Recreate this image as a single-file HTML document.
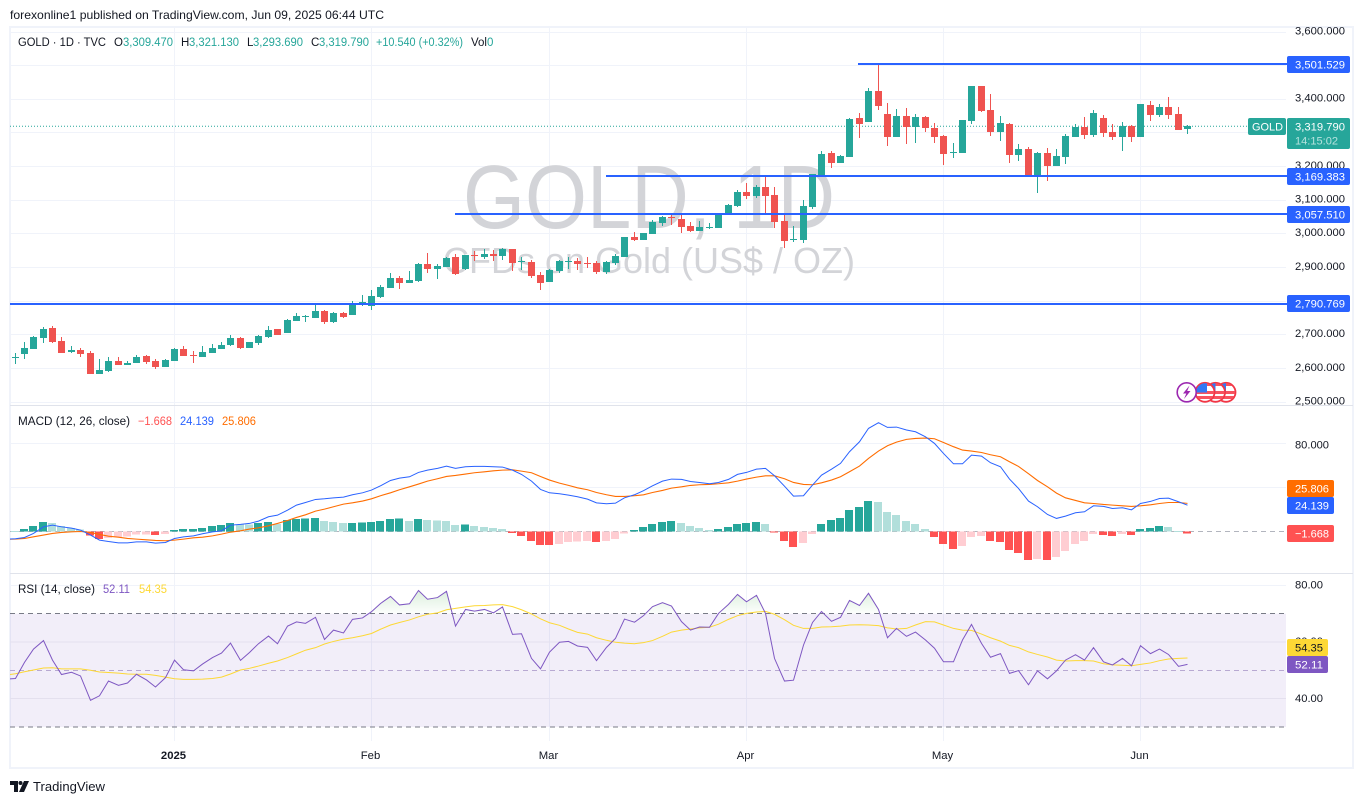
<!DOCTYPE html>
<html lang="en">
<head>
<meta charset="utf-8">
<title>GOLD 1D chart</title>
<style>
html,body{margin:0;padding:0;background:#fff;width:1364px;height:804px;overflow:hidden}
svg{display:block}
text{font-family:"Liberation Sans",sans-serif;fill:#131722}
</style>
</head>
<body>
<svg id="chart" xmlns="http://www.w3.org/2000/svg" width="1364" height="804" viewBox="0 0 1364 804">
  <defs>
    <clipPath id="plot-clip"><rect x="10" y="27" width="1276" height="714"/></clipPath>
    <clipPath id="ob-clip"><rect x="10" y="574" width="1276" height="39.7"/></clipPath>
    <linearGradient id="ob-grad" gradientUnits="userSpaceOnUse" x1="0" y1="585" x2="0" y2="614">
      <stop offset="0" stop-color="#4caf50" stop-opacity="0.24"/>
      <stop offset="1" stop-color="#4caf50" stop-opacity="0.01"/>
    </linearGradient>
    <clipPath id="flag-clip-a"><circle cx="1226" cy="392.3" r="9"/></clipPath>
    <clipPath id="flag-clip-b"><circle cx="1215.5" cy="392.3" r="9"/></clipPath>
    <clipPath id="flag-clip-c"><circle cx="1205" cy="392.3" r="9"/></clipPath>
  </defs>

  <rect x="0" y="0" width="1364" height="804" fill="#ffffff"/>
  <text x="10" y="19" font-size="12" textLength="374" lengthAdjust="spacingAndGlyphs">forexonline1 published on TradingView.com, Jun 09, 2025 06:44 UTC</text>

  <g fill="none" stroke="#f0f3fa" stroke-width="2" shape-rendering="crispEdges">
    <rect x="10" y="27" width="1343" height="741"/>
  </g>

  <g id="grid" clip-path="url(#plot-clip)"></g>

  <g>
    <text x="463" y="228" font-size="90" textLength="372" lengthAdjust="spacingAndGlyphs" style="fill:#d3d4d8">GOLD, 1D</text>
    <text x="443" y="273" font-size="36" textLength="412" lengthAdjust="spacingAndGlyphs" style="fill:#d3d4d8">CFDs on Gold (US$ / OZ)</text>
  </g>

  <rect id="rsi-band" x="10" y="613.7" width="1276" height="113.3" fill="#7e57c2" fill-opacity="0.1"/>
  <g id="pane-lines"></g>

  <g id="price-pane" clip-path="url(#plot-clip)"></g>
  <g id="macd-pane" clip-path="url(#plot-clip)"></g>
  <g id="rsi-pane" clip-path="url(#plot-clip)"></g>
  <g id="levels"></g>

  <g stroke="#e0e3eb" stroke-width="1" shape-rendering="crispEdges">
    <line x1="10" x2="1353" y1="405.5" y2="405.5"/>
    <line x1="10" x2="1353" y1="573.5" y2="573.5"/>
  </g>

  <g font-size="11.5">
    <text x="18" y="46" textLength="88" lengthAdjust="spacingAndGlyphs">GOLD · 1D · TVC</text>
    <text x="114" y="46">O</text>
    <text x="123" y="46" textLength="50" lengthAdjust="spacingAndGlyphs" style="fill:#26a69a">3,309.470</text>
    <text x="181" y="46">H</text>
    <text x="189" y="46" textLength="50" lengthAdjust="spacingAndGlyphs" style="fill:#26a69a">3,321.130</text>
    <text x="247" y="46">L</text>
    <text x="253" y="46" textLength="50" lengthAdjust="spacingAndGlyphs" style="fill:#26a69a">3,293.690</text>
    <text x="311" y="46">C</text>
    <text x="319" y="46" textLength="50" lengthAdjust="spacingAndGlyphs" style="fill:#26a69a">3,319.790</text>
    <text x="376" y="46" textLength="87" lengthAdjust="spacingAndGlyphs" style="fill:#26a69a">+10.540 (+0.32%)</text>
    <text x="471" y="46" textLength="16" lengthAdjust="spacingAndGlyphs">Vol</text>
    <text x="487" y="46" style="fill:#26a69a">0</text>
  </g>

  <g font-size="11.5">
    <text x="18" y="425" textLength="112" lengthAdjust="spacingAndGlyphs">MACD (12, 26, close)</text>
    <text x="138" y="425" textLength="34" lengthAdjust="spacingAndGlyphs" style="fill:#ff5252">−1.668</text>
    <text x="180" y="425" textLength="34" lengthAdjust="spacingAndGlyphs" style="fill:#2962ff">24.139</text>
    <text x="222" y="425" textLength="34" lengthAdjust="spacingAndGlyphs" style="fill:#ff6d00">25.806</text>
  </g>

  <g font-size="11.5">
    <text x="18" y="593" textLength="77" lengthAdjust="spacingAndGlyphs">RSI (14, close)</text>
    <text x="103" y="593" textLength="27" lengthAdjust="spacingAndGlyphs" style="fill:#7e57c2">52.11</text>
    <text x="139" y="593" textLength="28" lengthAdjust="spacingAndGlyphs" style="fill:#fdd835">54.35</text>
  </g>

  <g id="axis-labels" font-size="11.3"></g>

  <g font-size="11.3">
    <g><rect x="1287" y="56" width="63" height="17" rx="2" fill="#2962ff"/><text x="1295" y="68.5" textLength="50" lengthAdjust="spacingAndGlyphs" style="fill:#fff">3,501.529</text></g>
    <g><rect x="1287" y="168" width="63" height="17" rx="2" fill="#2962ff"/><text x="1295" y="180.5" textLength="50" lengthAdjust="spacingAndGlyphs" style="fill:#fff">3,169.383</text></g>
    <g><rect x="1287" y="206" width="63" height="17" rx="2" fill="#2962ff"/><text x="1295" y="218.5" textLength="50" lengthAdjust="spacingAndGlyphs" style="fill:#fff">3,057.510</text></g>
    <g><rect x="1287" y="295" width="63" height="17" rx="2" fill="#2962ff"/><text x="1295" y="307.5" textLength="50" lengthAdjust="spacingAndGlyphs" style="fill:#fff">2,790.769</text></g>
    <g><rect x="1248" y="118" width="38" height="17" rx="2" fill="#26a69a"/><text x="1252" y="130.5" textLength="31" lengthAdjust="spacingAndGlyphs" style="fill:#fff">GOLD</text></g>
    <g><rect x="1287" y="118" width="63" height="31" rx="2" fill="#26a69a"/><text x="1295" y="130.5" textLength="50" lengthAdjust="spacingAndGlyphs" style="fill:#fff">3,319.790</text><text x="1295" y="144.5" textLength="43" lengthAdjust="spacingAndGlyphs" style="fill:#b7e3de">14:15:02</text></g>
    <g><rect x="1287" y="480" width="47" height="17" rx="2" fill="#ff6d00"/><text x="1295" y="492.7" textLength="34" lengthAdjust="spacingAndGlyphs" style="fill:#fff">25.806</text></g>
    <g><rect x="1287" y="497" width="47" height="17" rx="2" fill="#2962ff"/><text x="1295" y="509.5" textLength="34" lengthAdjust="spacingAndGlyphs" style="fill:#fff">24.139</text></g>
    <g><rect x="1287" y="525" width="47" height="17" rx="2" fill="#ff5252"/><text x="1295" y="537.5" textLength="34" lengthAdjust="spacingAndGlyphs" style="fill:#fff">−1.668</text></g>
    <g><rect x="1287" y="639" width="41" height="17" rx="2" fill="#fdd835"/><text x="1295" y="651.5" textLength="28" lengthAdjust="spacingAndGlyphs">54.35</text></g>
    <g><rect x="1287" y="656" width="41" height="17" rx="2" fill="#7e57c2"/><text x="1295" y="668.5" textLength="28" lengthAdjust="spacingAndGlyphs" style="fill:#fff">52.11</text></g>
  </g>

  <g>
    <g>
      <circle cx="1226" cy="392.3" r="9.5" fill="#fff" stroke="#f23645" stroke-width="1.8"/>
      <g clip-path="url(#flag-clip-a)"><rect x="1216" y="383" width="20" height="3" fill="#f7525f"/><rect x="1216" y="391" width="20" height="3" fill="#f7525f"/><rect x="1216" y="396" width="20" height="3" fill="#f7525f"/><rect x="1216" y="383" width="10" height="9" fill="#3179f5"/></g>
    </g>
    <g>
      <circle cx="1215.5" cy="392.3" r="9.5" fill="#fff" stroke="#f23645" stroke-width="1.8"/>
      <g clip-path="url(#flag-clip-b)"><rect x="1205.5" y="383" width="20" height="3" fill="#f7525f"/><rect x="1205.5" y="391" width="20" height="3" fill="#f7525f"/><rect x="1205.5" y="396" width="20" height="3" fill="#f7525f"/><rect x="1205.5" y="383" width="10" height="9" fill="#3179f5"/></g>
    </g>
    <g>
      <circle cx="1205" cy="392.3" r="9.5" fill="#fff" stroke="#f23645" stroke-width="1.8"/>
      <g clip-path="url(#flag-clip-c)"><rect x="1195" y="383" width="20" height="3" fill="#f7525f"/><rect x="1195" y="391" width="20" height="3" fill="#f7525f"/><rect x="1195" y="396" width="20" height="3" fill="#f7525f"/><rect x="1196" y="383" width="11" height="9.5" fill="#3179f5"/></g>
    </g>
    <g>
      <circle cx="1186.7" cy="392.3" r="9.5" fill="#fff" stroke="#9c27b0" stroke-width="1.6"/>
      <polygon points="1189.5,385.5 1183,393.5 1186.3,393.5 1184,399 1190.5,391 1187.2,391" fill="#9c27b0"/>
    </g>
  </g>

  <g>
    <g fill="#131722">
      <polygon points="10,781 18,781 18,792 14,792 14,785 10,785"/>
      <circle cx="20.5" cy="783" r="2"/>
      <polygon points="24,781 29,781 24,792 19,792"/>
    </g>
    <text x="33" y="791" font-size="13" textLength="72" lengthAdjust="spacingAndGlyphs">TradingView</text>
  </g>
</svg>

<script>
var priceTicks = [3600, 3500, 3400, 3300, 3200, 3100, 3000, 2900, 2800, 2700, 2600, 2500];
var macdTicks = [80, 40];
var macdTickLabels = ['80.000', ''];
var rsiGridTicks = [80, 60, 40];
var rsiTickLabels = ['80.00', '60.00', '40.00'];
var rsiDashedTicks = [70, 50, 30];
var monthNames = ['2025', 'Feb', 'Mar', 'Apr', 'May', 'Jun'];
var monthBars = [17, 38, 57, 78, 99, 120];
var lastPrice = 3319.79;
var levelValues = [3501.529, 3169.383, 3057.51, 2790.769];
var levelStartBars = [89.9, 63, 46.9, -1];

var opens = [2630,2642,2657,2689,2719,2680,2648,2654,2645,2582,2591,2621,2609,2615,2636,2621,2603,2621,2657,2639,2633,2645,2657,2668,2689,2660,2674,2692,2716,2704,2740,2752,2749,2769,2737,2763,
2757,2793,2784,2811,2838,2867,2853,2858,2909,2894,2900,2930,2894,2936,2930,2939,2933,2954,2914,2915,2876,2855,2888,2916,2918,2912,2912,2885,2912,2930,2989,2980,2998,3031,3049,
3043,3022,3007,3017,3016,3055,3081,3123,3111,3138,3114,3037,2980,2980,3078,3174,3239,3209,3227,3343,3331,3423,3355,3286,3349,3316,3346,3313,3289,3239,3239,3334,3438,3367,3301,3325,3233,3251,3174,3239,3200,3227,3286,3316,3292,3343,3301,3286,3319,3286,3382,3352,3376,3355,3309];
var highs = [2645,2677,2695,2722,2725,2692,2665,2660,2651,2627,2633,2633,2621,2639,2639,2627,2627,2660,2665,2651,2665,2671,2677,2698,2692,2677,2698,2725,2716,2746,2763,2758,2790,2772,2766,2767,
2799,2817,2832,2847,2882,2873,2888,2912,2942,2909,2930,2939,2936,2948,2954,2951,2957,2954,2930,2921,2885,2894,2921,2930,2927,2930,2918,2918,2939,2989,3004,3001,3040,3052,3061,
3055,3034,3037,3031,3061,3087,3129,3150,3144,3168,3138,3055,3022,3099,3176,3245,3245,3233,3343,3358,3432,3503,3387,3370,3373,3355,3349,3328,3292,3269,3337,3438,3438,3414,3349,3328,3266,3257,3242,3254,3251,3295,3325,3346,3367,3352,3325,3331,3322,3385,3393,3385,3405,3376,3322];
var lows = [2612,2627,2657,2674,2674,2645,2645,2633,2582,2582,2588,2609,2609,2615,2612,2597,2603,2621,2636,2615,2633,2645,2657,2665,2657,2660,2668,2689,2698,2704,2740,2737,2749,2731,2734,2750,
2757,2784,2772,2808,2838,2835,2853,2855,2882,2864,2900,2876,2891,2918,2924,2918,2921,2888,2891,2867,2832,2855,2882,2894,2891,2897,2879,2879,2906,2930,2977,2980,2998,3022,3025,
3001,3004,3007,3013,3016,3055,3078,3102,3105,3055,3016,2957,2974,2971,3072,3174,3194,3209,3227,3283,3331,3367,3260,3286,3266,3269,3301,3269,3203,3224,3239,3325,3361,3289,3275,3209,3215,3168,3120,3156,3200,3206,3286,3280,3286,3286,3277,3245,3272,3286,3334,3346,3340,3307,3295];
var closes = [2633,2660,2692,2716,2677,2645,2654,2642,2582,2594,2621,2609,2615,2633,2618,2603,2624,2657,2636,2636,2648,2660,2668,2689,2660,2677,2695,2713,2698,2743,2755,2755,2769,2737,2763,2752,
2793,2796,2814,2841,2867,2853,2861,2909,2894,2903,2927,2879,2936,2933,2939,2933,2954,2912,2917,2873,2853,2891,2918,2918,2909,2910,2885,2915,2933,2989,2980,3001,3034,3049,3046,
3019,3007,3019,3019,3055,3084,3123,3111,3138,3111,3034,2977,2983,3081,3176,3236,3209,3230,3340,3325,3423,3379,3286,3349,3316,3346,3313,3286,3236,3242,3337,3438,3364,3301,3328,3233,3251,3174,3239,3200,3230,3289,3316,3292,3358,3298,3286,3319,3286,3385,3352,3376,3352,3307,3319];

var macdHistogram = [0.5,2.4,5.2,8.9,8.0,5.2,3.1,1.8,-3.7,-6.7,-5.8,-4.9,-4.8,-2.8,-2.7,-3.1,-2.1,1.5,2.4,2.5,3.4,5.2,6.1,8.0,6.5,6.2,8.0,8.9,7.0,10.7,11.6,11.7,12.5,9.8,8.9,7.9,8.0,8.1,8.9,9.8,11.6,11.7,9.8,11.6,10.7,10.0,
9.8,6.1,6.2,5.2,4.3,3.4,2.4,-1.2,-4.0,-8.6,-12.2,-12.3,-11.3,-9.5,-9.4,-8.6,-9.5,-8.6,-6.7,-1.8,1.5,4.3,7.0,8.9,9.8,8.0,5.2,3.4,1.5,2.4,4.3,7.0,8.0,8.9,7.0,-0.7,-8.6,-14.1,-10.4,-2.1,7.0,10.7,12.5,19.9,22.6,28.1,27.2,18.0,15.3,
9.8,7.0,2.4,-4.9,-11.3,-15.9,-13.1,-4.9,-4.0,-8.6,-9.5,-16.8,-19.6,-26.0,-25.1,-26.2,-23.2,-17.7,-11.3,-8.6,-2.1,-3.1,-4.0,-2.1,-3.1,2.4,3.4,5.2,4.3,0.4,-1.668];
// Indicator lines begin one bar before the first visible candle.
var macdLine = [-7.0,-6.7,-5.5,-1.8,4.3,5.8,4.3,3.1,1.3,-3.3,-7.9,-9.2,-10.4,-10.4,-9.5,-9.5,-10.7,-10.1,-6.4,-4.9,-4.0,-2.1,-0.3,0.6,5.8,6.5,7.4,9.5,13.5,15.0,19.6,24.2,26.6,29.4,30.0,30.9,31.5,33.7,35.5,38.0,41.9,46.8,49.0,50.2,54.2,56.3,57.9,
60.0,57.9,59.4,59.7,59.7,59.4,59.1,56.3,52.4,46.2,38.6,35.5,34.6,33.4,31.9,29.7,26.3,25.4,26.0,30.9,33.7,37.4,41.9,46.2,48.1,47.8,45.9,45.0,43.8,45.0,47.8,52.4,54.2,57.2,57.9,51.1,41.6,32.5,32.8,42.6,51.7,57.2,62.5,73.2,82.3,94.6,99.8,95.5,95.8,
93.1,91.5,86.9,80.8,71.6,62.1,62.1,70.1,69.2,63.1,59.4,48.1,39.5,27.9,22.7,15.6,12.0,14.1,17.2,18.1,23.6,23.0,21.1,21.8,19.9,25.7,27.6,30.3,30.6,27.3,24.139];
var macdSignal = [-7.2,-7.0,-6.4,-4.9,-3.3,-1.8,-0.9,-0.3,0.0,-0.9,-2.7,-4.3,-5.2,-6.4,-7.0,-7.6,-8.2,-8.5,
-7.9,-7.0,-5.8,-5.2,-4.0,-2.4,-0.6,0.6,2.2,3.4,5.2,7.4,10.1,12.9,15.3,18.7,20.5,22.7,25.1,26.3,27.9,30.0,32.8,35.5,38.3,41.0,43.5,46.2,48.4,
50.5,51.4,52.7,53.9,54.8,55.7,56.3,56.6,55.4,53.9,50.5,47.2,44.4,42.3,40.1,38.3,35.8,33.7,32.2,32.2,32.8,33.7,35.8,37.7,39.8,41.0,42.3,42.9,43.2,43.8,44.7,46.2,48.1,49.9,51.1,51.1,48.4,45.0,43.2,42.9,44.7,47.2,50.2,54.8,60.0,67.0,73.8,78.7,82.0,
84.5,85.4,85.7,85.1,81.7,77.8,74.7,73.8,72.5,70.4,68.6,64.0,59.7,53.0,46.8,41.0,35.2,30.9,28.5,26.3,25.7,24.8,24.2,23.6,23.0,23.6,24.5,25.7,26.6,26.6,25.806];
var rsiValues = [46.9,47.1,52.8,57.5,60.5,53.6,48.5,49.3,48.0,39.4,41.0,46.2,44.7,45.5,48.6,46.6,44.1,47.4,53.6,50.2,49.8,52.2,54.5,56.1,59.6,53.5,56.3,59.4,62.1,59.4,65.6,67.1,66.6,68.7,60.9,64.2,63.2,68.0,68.5,70.7,73.6,76.1,73.1,73.5,78.2,75.1,75.7,77.9,
65.6,71.5,70.9,71.5,70.3,72.4,62.7,62.9,54.2,50.5,56.4,59.9,60.2,58.6,58.1,53.4,58.1,61.3,68.1,67.0,69.3,72.5,73.9,72.7,67.2,64.2,65.3,65.2,70.1,73.3,76.8,74.2,76.5,70.1,54.2,46.2,46.5,58.9,66.9,70.8,67.3,68.7,74.7,72.9,77.2,71.5,61.5,64.8,
62.0,63.5,60.7,57.8,53.0,53.0,60.7,66.2,59.5,54.6,55.9,48.9,49.9,44.9,49.8,47.0,49.8,53.6,55.5,53.6,58.0,53.0,51.9,54.2,51.6,58.7,55.9,57.5,55.6,51.4,52.11];
var rsiMaValues = [48.3,48.8,49.5,50.1,50.8,50.9,50.5,50.5,50.5,50.0,49.4,49.2,49.0,48.7,48.6,48.6,48.2,47.6,47.0,46.8,46.8,46.9,47.1,47.6,48.7,50.1,50.7,51.5,52.5,53.3,54.5,55.8,57.1,58.0,59.3,60.2,61.0,61.5,62.2,63.0,64.5,66.0,66.9,67.8,68.9,69.8,70.3,71.4,
71.9,72.4,72.8,72.9,73.1,73.2,72.5,71.4,69.9,68.2,66.8,65.9,64.6,63.4,62.8,61.5,60.6,59.9,59.6,59.4,59.8,60.5,62.0,63.5,64.2,64.6,65.0,65.2,66.3,68.0,69.3,70.1,70.6,70.8,69.8,67.9,65.9,64.8,64.8,65.3,65.4,65.6,66.0,66.1,66.0,65.8,65.0,64.6,
64.8,66.0,67.2,67.1,66.0,64.8,64.2,64.1,62.8,61.5,60.3,58.8,58.0,56.5,55.6,54.7,53.6,53.3,53.4,53.4,53.3,52.3,51.9,51.8,51.6,52.1,52.6,53.4,54.0,54.2,54.35];

var SVGNS = 'http://www.w3.org/2000/svg';
function make(tag, parent, attrs) {
  var el = document.createElementNS(SVGNS, tag);
  for (var k in attrs) el.setAttribute(k, attrs[k]);
  parent.appendChild(el);
  return el;
}
function xBar(i) { return Math.floor(15 + 9.382 * i); }
function xLine(i) { return xBar(i) + 0.5; }
function yPrice(p) { return 233.4 + (3000 - p) * 0.3365; }
function yMacd(v) { return 531.5 - 1.09 * v; }
function yRsi(v) { return 670.3 - (v - 50) * 2.83; }
function crisp(y) { return Math.round(y) + 0.5; }
function fmtPrice(p) { return String(p).replace(/(\d)(\d{3})$/, '$1,$2') + '.000'; }
function linePoints(values, yFn) {
  return values.map(function (v, k) { return xLine(k - 1) + ',' + yFn(v).toFixed(2); }).join(' ');
}

var grid = document.getElementById('grid');
var GRID = '#f0f3fa';
priceTicks.forEach(function (p) {
  var l = make('line', grid, {x1: 10, x2: 1286, y1: crisp(yPrice(p)), y2: crisp(yPrice(p)), stroke: GRID, 'shape-rendering': 'crispEdges'});
  
  
});
macdTicks.forEach(function (v) {
  var l = make('line', grid, {x1: 10, x2: 1286, y1: crisp(yMacd(v)) - 1, y2: crisp(yMacd(v)) - 1, stroke: GRID, 'shape-rendering': 'crispEdges'});
  
  
});
monthBars.forEach(function (b) {
  var l = make('line', grid, {x1: xLine(b), x2: xLine(b), y1: 27, y2: 741, stroke: GRID, 'shape-rendering': 'crispEdges'});
  
  
});

var paneLines = document.getElementById('pane-lines');
rsiGridTicks.forEach(function (v) {
  var l = make('line', paneLines, {x1: 10, x2: 1286, y1: yRsi(v), y2: yRsi(v), stroke: v === 80 ? GRID : '#e4e0ee', 'shape-rendering': 'crispEdges'});
  
  
});
rsiDashedTicks.forEach(function (v) {
  var l = make('line', paneLines, {x1: 10, x2: 1286, y1: yRsi(v), y2: yRsi(v), stroke: v === 50 ? '#b8a9d2' : '#787b86', 'stroke-dasharray': '5 4', 'shape-rendering': 'crispEdges'});
  
  
});
var zeroLine = make('line', paneLines, {x1: 10, x2: 1286, y1: 531.5, y2: 531.5, stroke: '#b2b5be', 'stroke-dasharray': '5 4', 'shape-rendering': 'crispEdges'});



var pricePane = document.getElementById('price-pane');
var lastLine = make('line', pricePane, {x1: 10, x2: 1248, y1: yPrice(lastPrice) + 0.5, y2: yPrice(lastPrice) + 0.5, stroke: '#26a69a', 'stroke-width': 1, 'stroke-dasharray': '1 2'});



closes.forEach(function (c, i) {
  var o = opens[i], color = c >= o ? '#26a69a' : '#ef5350';
  var g = make('g', pricePane, {'shape-rendering': 'crispEdges', fill: color});
  
  
  var top = Math.round(yPrice(Math.max(o, c)));
  var bot = Math.round(yPrice(Math.min(o, c)));
  var hy = Math.round(yPrice(highs[i]));
  var ly = Math.round(yPrice(lows[i]));
  make('rect', g, {x: xBar(i), y: hy, width: 1, height: Math.max(1, ly - hy)});
  make('rect', g, {x: xBar(i) - 3, y: top, width: 7, height: Math.max(1, bot - top)});
});

var levels = document.getElementById('levels');
levelValues.forEach(function (p, k) {
  var y = Math.round(yPrice(p) - 0.3);
  var r = make('rect', levels, {x: Math.max(10, xBar(levelStartBars[k])), y: y - 1, width: 1287 - Math.max(10, xBar(levelStartBars[k])), height: 2, fill: '#2962ff', 'shape-rendering': 'crispEdges'});
  
  
});

var macdPane = document.getElementById('macd-pane');
macdHistogram.forEach(function (v, i) {
  var prev = i > 0 ? macdHistogram[i - 1] : v;
  var color = v >= 0 ? (v > prev ? '#26a69a' : '#b2dfdb') : (v < prev ? '#ff5252' : '#ffcdd2');
  var y0 = yMacd(0), y1 = yMacd(v);
  var r = make('rect', macdPane, {x: xBar(i) - 4, y: Math.min(y0, y1), width: 8, height: Math.max(1, Math.abs(y1 - y0)), fill: color, 'shape-rendering': 'crispEdges'});
  
  
});
var mSig = make('polyline', macdPane, {points: linePoints(macdSignal, yMacd), fill: 'none', stroke: '#ff6d00', 'stroke-width': 1.1});


var mLine = make('polyline', macdPane, {points: linePoints(macdLine, yMacd), fill: 'none', stroke: '#2962ff', 'stroke-width': 1});



var rsiPane = document.getElementById('rsi-pane');
var obBase = yRsi(70).toFixed(2);
var obPts = xLine(-1) + ',' + obBase + ' ' + linePoints(rsiValues, yRsi) + ' ' + xLine(rsiValues.length - 2) + ',' + obBase;
var obFill = make('polygon', rsiPane, {points: obPts, fill: 'url(#ob-grad)', 'clip-path': 'url(#ob-clip)'});


var rMa = make('polyline', rsiPane, {points: linePoints(rsiMaValues, yRsi), fill: 'none', stroke: '#fdd835', 'stroke-width': 1});


var rLine = make('polyline', rsiPane, {points: linePoints(rsiValues, yRsi), fill: 'none', stroke: '#7e57c2', 'stroke-width': 1});



var axis = document.getElementById('axis-labels');
priceTicks.forEach(function (p) {
  var t = make('text', axis, {x: 1295, y: yPrice(p) + 2.8, textLength: 50, lengthAdjust: 'spacingAndGlyphs'});
  
  
  t.textContent = fmtPrice(p);
});
macdTicks.forEach(function (v, k) {
  if (!macdTickLabels[k]) return;
  var t = make('text', axis, {x: 1295, y: yMacd(v) + 4, textLength: 34, lengthAdjust: 'spacingAndGlyphs'});
  
  
  t.textContent = macdTickLabels[k];
});
rsiGridTicks.forEach(function (v, k) {
  var t = make('text', axis, {x: 1295, y: yRsi(v) + 3.2, textLength: 28, lengthAdjust: 'spacingAndGlyphs'});
  
  
  t.textContent = rsiTickLabels[k];
});
monthNames.forEach(function (m, k) {
  var attrs = {x: xLine(monthBars[k]) - 1, y: 759, 'text-anchor': 'middle'};
  if (k === 0) attrs['font-weight'] = 'bold';
  var t = make('text', axis, attrs);
  
  
  t.textContent = m;
});
</script>
</body>
</html>
